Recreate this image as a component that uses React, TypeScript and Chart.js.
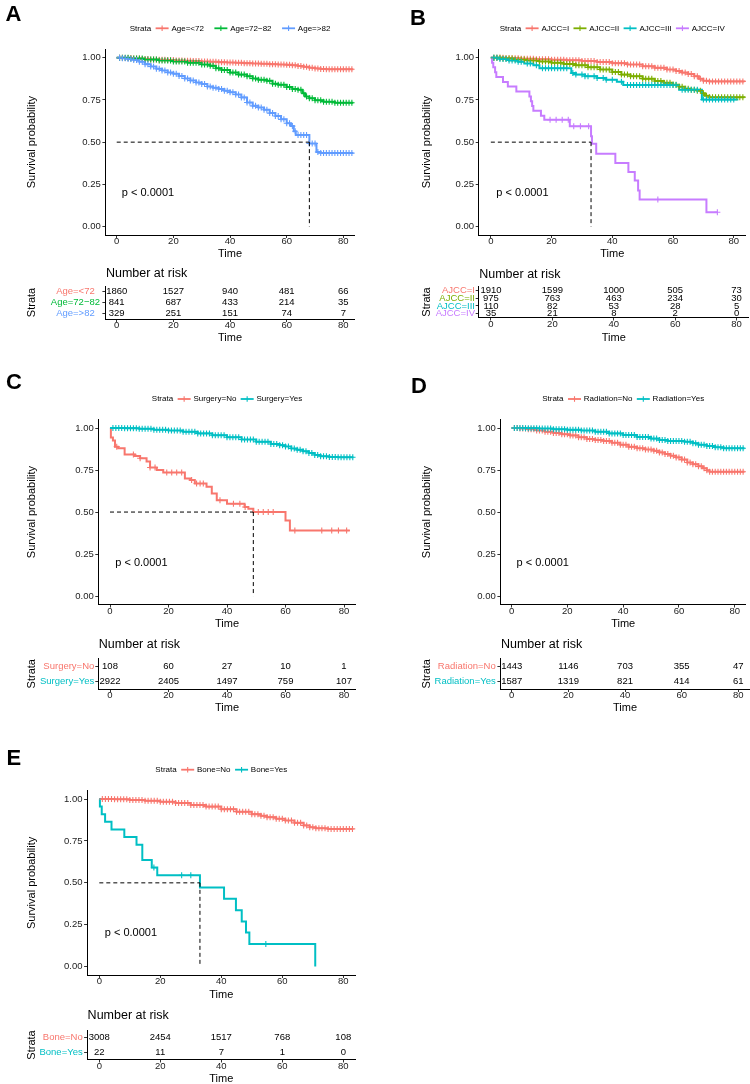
import React, { useEffect, useRef } from "react";
import { Chart, registerables } from "chart.js";

Chart.register(...registerables);

const FONT = "'Liberation Sans', Arial, Helvetica, sans-serif";

/* ---------------- shared axis values ---------------- */
const X_TICKS = [0, 20, 40, 60, 80];
const Y_TICKS = [0, 0.25, 0.5, 0.75, 1];
const RISK_TIMES = [0, 20, 40, 60, 80];
const X_LIMITS = [-4, 84];
const Y_LIMITS = [-0.05, 1.05];
const P_LABEL = "p < 0.0001";
const P_AT = [1.8, 0.2];
const LEGEND_TITLE = "Strata";

// censoring marks seen at (almost) every follow-up month on the large strata
const CENSOR_MONTHLY = [1, 2, 3, 4, 5, 6, 7, 8, 9, 10, 11, 12, 13, 14, 15, 16, 17, 18, 19, 20, 21, 22, 23, 24, 25, 26, 27, 28, 29, 30, 31, 32, 33, 34, 35, 36, 37, 38, 39, 40, 41, 42, 43, 44, 45, 46, 47, 48, 49, 50, 51, 52, 53, 54, 55, 56, 57, 58, 59, 60, 61, 62, 63, 64, 65, 66, 67, 68, 69, 70, 71, 72, 73, 74, 75, 76, 77, 78, 79, 80, 81, 82, 83];

/* ---------------- A : Age ---------------- */
const A_LABELS = ["Age=<72", "Age=72\u221282", "Age=>82"];
const A_COLORS = ["#F8766D", "#00BA38", "#619CFF"];
const A_T1 = [0, 3, 6, 9, 12, 15, 18, 21, 24, 27, 30, 33, 36, 39, 42, 45, 48, 51, 54, 57, 60, 62, 64, 66, 68, 70, 72, 74, 83.5];
const A_S1 = [1, 0.998, 0.995, 0.993, 0.99, 0.988, 0.986, 0.984, 0.982, 0.98, 0.978, 0.976, 0.974, 0.972, 0.97, 0.968, 0.966, 0.964, 0.962, 0.96, 0.958, 0.955, 0.951, 0.946, 0.941, 0.937, 0.934, 0.932, 0.932];
const A_T2 = [0, 5, 10, 15, 20, 25, 30, 33, 35, 37, 40, 43, 46, 48, 50, 53, 55, 57, 60, 62, 64, 65.5, 66.5, 68, 70, 73, 77, 83.5];
const A_S2 = [1, 0.995, 0.99, 0.984, 0.978, 0.97, 0.96, 0.952, 0.938, 0.928, 0.912, 0.9, 0.89, 0.877, 0.87, 0.863, 0.846, 0.84, 0.826, 0.815, 0.81, 0.79, 0.77, 0.76, 0.748, 0.74, 0.733, 0.733];
const A_T3 = [0, 2, 4, 6, 8, 10, 12, 14, 16, 18, 20, 22, 24, 26, 28, 30, 32, 34, 36, 38, 40, 42, 44, 46, 48, 50, 52, 54, 56, 58, 60, 61.5, 62.5, 63.2, 68, 70.5, 72, 83.5];
const A_S3 = [1, 0.997, 0.992, 0.986, 0.976, 0.962, 0.948, 0.935, 0.924, 0.913, 0.905, 0.892, 0.877, 0.865, 0.853, 0.845, 0.83, 0.822, 0.815, 0.805, 0.795, 0.782, 0.765, 0.735, 0.715, 0.705, 0.692, 0.672, 0.655, 0.635, 0.612, 0.595, 0.565, 0.542, 0.492, 0.442, 0.435, 0.435];
const A_RISK1 = [1860, 1527, 940, 481, 66];
const A_RISK2 = [841, 687, 433, 214, 35];
const A_RISK3 = [329, 251, 151, 74, 7];
const A_MEDIAN = 68;

/* ---------------- B : AJCC ---------------- */
const B_LABELS = ["AJCC=I", "AJCC=II", "AJCC=III", "AJCC=IV"];
const B_COLORS = ["#F8766D", "#7CAE00", "#00BFC4", "#C77CFF"];
const B_T1 = [0, 5, 10, 15, 20, 25, 30, 35, 40, 45, 50, 54, 58, 61, 63, 65, 67, 68.5, 70, 72, 83.5];
const B_S1 = [1, 0.997, 0.994, 0.991, 0.988, 0.985, 0.981, 0.975, 0.968, 0.96, 0.95, 0.94, 0.93, 0.922, 0.912, 0.903, 0.89, 0.875, 0.864, 0.86, 0.857];
const B_T2 = [0, 4, 8, 12, 16, 20, 24, 28, 32, 36, 40, 43, 46, 50, 54, 57, 60, 62, 64, 66, 68, 69.5, 70.5, 72, 83.5];
const B_S2 = [1, 0.996, 0.99, 0.984, 0.978, 0.971, 0.963, 0.955, 0.943, 0.93, 0.915, 0.9, 0.89, 0.876, 0.862, 0.852, 0.84, 0.828, 0.816, 0.81, 0.805, 0.79, 0.775, 0.766, 0.764];
const B_T3 = [0, 3, 6, 9, 11, 14, 16, 26.5, 28, 31, 35, 38, 41.5, 43.6, 62, 69.5, 81.5];
const B_S3 = [1, 0.992, 0.984, 0.976, 0.966, 0.955, 0.938, 0.909, 0.9, 0.891, 0.88, 0.87, 0.858, 0.838, 0.81, 0.752, 0.752];
const B_T4 = [0, 0.4, 0.8, 1.4, 1.8, 4, 5.6, 8.4, 12.7, 13.2, 13.6, 14, 16.5, 17.6, 26, 33, 33.3, 34.7, 41, 45.3, 47.4, 48.5, 49, 71, 74.6];
const B_S4 = [1, 0.971, 0.943, 0.914, 0.886, 0.857, 0.829, 0.8, 0.771, 0.743, 0.714, 0.686, 0.657, 0.633, 0.594, 0.535, 0.49, 0.432, 0.376, 0.323, 0.273, 0.214, 0.16, 0.085, 0.085];
const B_C3 = [1, 2, 3, 4, 5, 6, 7, 8, 9, 10, 12, 13, 15, 17, 18, 19, 20, 21, 22, 23, 24, 25, 27, 28, 30, 31, 32, 34, 35, 37, 38, 40, 43, 45, 46, 47, 48, 49, 50, 51, 52, 53, 54, 55, 56, 57, 58, 59, 60, 61, 63, 64, 65, 66, 67, 68, 70, 71, 72, 73, 74, 75, 76, 77, 78, 79, 80];
const B_C4 = [19.5, 21.5, 23.5, 25.5, 27.3, 29.5, 32.2, 55, 74.6];
const B_RISK1 = [1910, 1599, 1000, 505, 73];
const B_RISK2 = [975, 763, 463, 234, 30];
const B_RISK3 = [110, 82, 53, 28, 5];
const B_RISK4 = [35, 21, 8, 2, 0];
const B_MEDIAN = 33;

/* ---------------- C : Surgery ---------------- */
const C_LABELS = ["Surgery=No", "Surgery=Yes"];
const C_COLORS = ["#F8766D", "#00BFC4"];
const C_T1 = [0, 0.3, 1, 1.7, 2.8, 5, 8.5, 10.3, 12.5, 13.7, 16, 18.2, 25.6, 27.4, 29, 33, 34.8, 36.5, 40, 46, 47.3, 49, 60, 61.5, 82];
const C_S1 = [1, 0.944, 0.926, 0.889, 0.88, 0.843, 0.833, 0.82, 0.8, 0.765, 0.75, 0.735, 0.7, 0.69, 0.67, 0.65, 0.61, 0.57, 0.55, 0.53, 0.52, 0.5, 0.45, 0.39, 0.39];
const C_T2 = [0, 5, 10, 15, 20, 25, 30, 35, 40, 45, 50, 55, 58, 60, 62, 64, 66, 68, 70, 72, 75, 78, 83.2];
const C_S2 = [1, 0.999, 0.996, 0.99, 0.985, 0.978, 0.968, 0.957, 0.945, 0.932, 0.918, 0.905, 0.898, 0.89, 0.878, 0.87, 0.862, 0.852, 0.84, 0.832, 0.828, 0.826, 0.826];
const C_C1 = [2.3, 8, 10.3, 13.7, 15.4, 19.4, 21.1, 22.8, 24.5, 27.9, 29.6, 30.8, 31.9, 37.6, 42.2, 44.4, 46.2, 50.7, 52.4, 54.1, 55.8, 63.2, 72.4, 75.8, 78.1, 80.9];
const C_RISK1 = [108, 60, 27, 10, 1];
const C_RISK2 = [2922, 2405, 1497, 759, 107];
const C_MEDIAN = 49;

/* ---------------- D : Radiation ---------------- */
const D_LABELS = ["Radiation=No", "Radiation=Yes"];
const D_COLORS = ["#F8766D", "#00BFC4"];
const D_T1 = [0, 3, 6, 9, 12, 15, 18, 21, 24, 27, 30, 33, 36, 39, 42, 45, 48, 51, 53, 55, 57, 59, 61, 63, 65, 67, 68.5, 70, 71, 83.5];
const D_S1 = [1, 0.997, 0.992, 0.985, 0.978, 0.97, 0.963, 0.956, 0.945, 0.935, 0.928, 0.922, 0.912, 0.9, 0.888, 0.88, 0.872, 0.864, 0.855, 0.845, 0.835, 0.825, 0.812, 0.795, 0.785, 0.772, 0.76, 0.748, 0.74, 0.74];
const D_T2 = [0, 5, 10, 15, 20, 25, 30, 35, 40, 45, 50, 53, 56, 62, 65, 67, 70, 73, 76, 83.5];
const D_S2 = [1, 0.999, 0.997, 0.993, 0.989, 0.985, 0.978, 0.968, 0.958, 0.947, 0.937, 0.928, 0.922, 0.918, 0.91, 0.9, 0.893, 0.885, 0.88, 0.88];
const D_RISK1 = [1443, 1146, 703, 355, 47];
const D_RISK2 = [1587, 1319, 821, 414, 61];
const D_MEDIAN = null;

/* ---------------- E : Bone ---------------- */
const E_LABELS = ["Bone=No", "Bone=Yes"];
const E_COLORS = ["#F8766D", "#00BFC4"];
const E_T1 = [0, 5, 10, 15, 20, 25, 30, 35, 40, 45, 50, 53, 55, 58, 61, 64, 67, 69, 71, 75, 83.3];
const E_S1 = [1, 0.999, 0.995, 0.99, 0.984, 0.977, 0.965, 0.955, 0.94, 0.925, 0.91, 0.9, 0.892, 0.883, 0.872, 0.858, 0.843, 0.832, 0.826, 0.822, 0.822];
const E_T2 = [0, 0.2, 0.8, 1.9, 4, 8.2, 12.2, 14.1, 17.2, 19, 33, 40.9, 44.8, 46.7, 48.1, 49.2, 70.8];
const E_S2 = [1, 0.955, 0.909, 0.864, 0.818, 0.773, 0.727, 0.636, 0.591, 0.545, 0.4725, 0.405, 0.337, 0.27, 0.203, 0.135, 0];
const E_C2 = [17.9, 27, 30, 54.6];
const E_RISK1 = [3008, 2454, 1517, 768, 108];
const E_RISK2 = [22, 11, 7, 1, 0];
const E_MEDIAN = 33;

/* ---------------- panel assembly ---------------- */
type Series = { label: string; color: string; t: number[]; s: number[]; c: number[]; risk: number[] };
type Panel = { letter: string; series: Series[]; median: number | null; lay: any };

function mk(labels: string[], colors: string[], ts: number[][], ss: number[][], cs: number[][], risks: number[][]): Series[] {
  return labels.map((label, i) => ({ label, color: colors[i], t: ts[i], s: ss[i], c: cs[i], risk: risks[i] }));
}

const LAYOUTS: any = {
  A: { x: 0, w: 375, plotY: 0, plotH: 262, tableY: 262, tableH: 84, L: 105.4, R: 354.7, T: 49.3, B: 235, tT: 286, tB: 319, letterX: 5.5, letterY: 20.7, legendY: 28.3, legendGap: 10.5, yTitleX: 32, strataX: 31.7, tableTitleY: 274, tableAlign: "center", tablePad: 2.4 },
  B: { x: 375, w: 375, plotY: 0, plotH: 262, tableY: 262, tableH: 84, L: 478.7, R: 748.9, T: 49.3, B: 235, tT: 286.5, tB: 317.5, letterX: 410, letterY: 25, legendY: 28.3, legendGap: 4.3, yTitleX: 426.7, strataX: 426.7, tableTitleY: 275, tableAlign: "near", tablePad: 0.7 },
  C: { x: 0, w: 375, plotY: 360, plotH: 272, tableY: 632, tableH: 84, L: 98.3, R: 355.7, T: 419.6, B: 604.5, tT: 658.5, tB: 689, letterX: 6, letterY: 389.3, legendY: 399, legendGap: 4.3, yTitleX: 32.3, strataX: 31.7, tableTitleY: 645, tableAlign: "near", tablePad: 1 },
  D: { x: 375, w: 375, plotY: 360, plotH: 272, tableY: 632, tableH: 84, L: 500.4, R: 749.7, T: 419.6, B: 604.5, tT: 658.5, tB: 689, letterX: 411, letterY: 393.3, legendY: 399, legendGap: 4.3, yTitleX: 426.7, strataX: 426.7, tableTitleY: 645, tableAlign: "near", tablePad: 1.7 },
  E: { x: 0, w: 375, plotY: 720, plotH: 283, tableY: 1003, tableH: 84, L: 87.1, R: 355.5, T: 790.7, B: 975, tT: 1030.5, tB: 1059.5, letterX: 6.5, letterY: 765, legendY: 769.7, legendGap: 4.5, yTitleX: 32.3, strataX: 31.7, tableTitleY: 1016, tableAlign: "near", tablePad: 1.4 },
};

const PANELS: Panel[] = [
  { letter: "A", median: A_MEDIAN, lay: LAYOUTS.A, series: mk(A_LABELS, A_COLORS, [A_T1, A_T2, A_T3], [A_S1, A_S2, A_S3], [CENSOR_MONTHLY, CENSOR_MONTHLY, CENSOR_MONTHLY], [A_RISK1, A_RISK2, A_RISK3]) },
  { letter: "B", median: B_MEDIAN, lay: LAYOUTS.B, series: mk(B_LABELS, B_COLORS, [B_T1, B_T2, B_T3, B_T4], [B_S1, B_S2, B_S3, B_S4], [CENSOR_MONTHLY, CENSOR_MONTHLY, B_C3, B_C4], [B_RISK1, B_RISK2, B_RISK3, B_RISK4]) },
  { letter: "C", median: C_MEDIAN, lay: LAYOUTS.C, series: mk(C_LABELS, C_COLORS, [C_T1, C_T2], [C_S1, C_S2], [C_C1, CENSOR_MONTHLY], [C_RISK1, C_RISK2]) },
  { letter: "D", median: D_MEDIAN, lay: LAYOUTS.D, series: mk(D_LABELS, D_COLORS, [D_T1, D_T2], [D_S1, D_S2], [CENSOR_MONTHLY, CENSOR_MONTHLY], [D_RISK1, D_RISK2]) },
  { letter: "E", median: E_MEDIAN, lay: LAYOUTS.E, series: mk(E_LABELS, E_COLORS, [E_T1, E_T2], [E_S1, E_S2], [CENSOR_MONTHLY, E_C2], [E_RISK1, E_RISK2]) },
];

/* ---------------- helpers ---------------- */
function survAt(se: Series, t: number): number {
  let v = se.s[0];
  for (let k = 0; k < se.t.length; k++) {
    if (se.t[k] <= t) v = se.s[k];
    else break;
  }
  return v;
}

const TICK_FONT = { family: FONT, size: 9.5, lineHeight: 1 };
const TITLE_FONT = { family: FONT, size: 11, lineHeight: 1.2 };
const TICK_COLOR = "#222";
const GRID = { drawOnChartArea: false, drawTicks: true, tickLength: 3, color: "#333", lineWidth: 1 };
const BORDER = { display: true, color: "#000", width: 1 };

function xScale(height: number) {
  return {
    type: "linear",
    min: X_LIMITS[0],
    max: X_LIMITS[1],
    afterBuildTicks: (s: any) => { s.ticks = X_TICKS.map((v) => ({ value: v })); },
    afterFit: (s: any) => { s.height = height; },
    grid: GRID,
    border: BORDER,
    ticks: { font: TICK_FONT, color: TICK_COLOR, padding: -1, maxRotation: 0, autoSkip: false, callback: (v: any) => String(v) },
    title: { display: true, text: "Time", font: TITLE_FONT, color: "#000", padding: { top: 0, bottom: 1.4 } },
  };
}

function drawLegend(ctx: CanvasRenderingContext2D, chart: any, p: Panel, y: number, gap: number) {
  const TITLE_GAP = 4.5, KEY_W = 13, KEY_GAP = 2.8;
  ctx.font = `8px ${FONT}`;
  const widths = p.series.map((se) => ctx.measureText(se.label).width);
  const titleW = ctx.measureText(LEGEND_TITLE).width;
  const n = p.series.length;
  const total = titleW + TITLE_GAP + widths.reduce((a, b) => a + b, 0) + n * (KEY_W + KEY_GAP) + (n - 1) * gap;
  const ca = chart.chartArea;
  let x = (ca.left + ca.right) / 2 - total / 2;
  ctx.textAlign = "left";
  ctx.textBaseline = "middle";
  ctx.fillStyle = "#000";
  ctx.fillText(LEGEND_TITLE, x, y);
  x += titleW + TITLE_GAP;
  p.series.forEach((se, i) => {
    ctx.strokeStyle = se.color;
    ctx.lineWidth = 1.8;
    ctx.beginPath();
    ctx.moveTo(x, y);
    ctx.lineTo(x + KEY_W, y);
    ctx.stroke();
    ctx.lineWidth = 1.1;
    ctx.beginPath();
    ctx.moveTo(x + KEY_W / 2, y - 2.8);
    ctx.lineTo(x + KEY_W / 2, y + 2.8);
    ctx.stroke();
    x += KEY_W + KEY_GAP;
    ctx.fillStyle = "#000";
    ctx.fillText(se.label, x, y);
    x += widths[i] + gap;
  });
}

function plotConfig(p: Panel) {
  const lay = p.lay;
  const ox = lay.x, oy = lay.plotY;
  const datasets: any[] = [];
  p.series.forEach((se, i) => {
    datasets.push({
      type: "line",
      data: se.t.map((t, k) => ({ x: t, y: se.s[k] })),
      borderColor: se.color,
      backgroundColor: se.color,
      borderWidth: 2,
      pointRadius: 0,
      stepped: "before",
      fill: false,
      order: 100 - i,
    });
  });
  p.series.forEach((se, i) => {
    const tEnd = se.t[se.t.length - 1];
    datasets.push({
      type: "line",
      showLine: false,
      data: se.c.filter((t) => t <= tEnd).map((t) => ({ x: t, y: survAt(se, t) })),
      pointStyle: "cross",
      pointRadius: 3,
      pointHoverRadius: 3,
      pointBorderWidth: 1.1,
      pointBorderColor: se.color,
      pointBackgroundColor: se.color,
      borderColor: se.color,
      order: 50 - i,
    });
  });
  if (p.median !== null) {
    const dash = { borderColor: "#000", borderWidth: 1, borderDash: [4, 3], pointRadius: 0, fill: false, order: 0, type: "line" };
    datasets.push({ ...dash, data: [{ x: 0, y: 0.5 }, { x: p.median, y: 0.5 }] });
    datasets.push({ ...dash, data: [{ x: p.median, y: 0.5 }, { x: p.median, y: 0 }] });
  }

  const decor = {
    id: "decor" + p.letter,
    afterDatasetsDraw(chart: any) {
      const ctx = chart.ctx as CanvasRenderingContext2D;
      ctx.save();
      ctx.font = `11px ${FONT}`;
      ctx.fillStyle = "#000";
      ctx.textAlign = "left";
      ctx.textBaseline = "middle";
      ctx.fillText(P_LABEL, chart.scales.x.getPixelForValue(P_AT[0]), chart.scales.y.getPixelForValue(P_AT[1]));
      ctx.font = `bold 22px ${FONT}`;
      ctx.textBaseline = "alphabetic";
      ctx.fillText(p.letter, lay.letterX - ox, lay.letterY - oy);
      drawLegend(ctx, chart, p, lay.legendY - oy, lay.legendGap);
      ctx.restore();
    },
  };

  return {
    type: "line",
    data: { datasets },
    options: {
      responsive: false,
      animation: false,
      devicePixelRatio: 1,
      events: [],
      layout: { padding: { left: 0, top: lay.T - oy, right: ox + lay.w - lay.R, bottom: 0 } },
      plugins: { legend: { display: false }, tooltip: { enabled: false }, title: { display: false } },
      scales: {
        x: xScale(oy + lay.plotH - lay.B),
        y: {
          type: "linear",
          min: Y_LIMITS[0],
          max: Y_LIMITS[1],
          afterBuildTicks: (s: any) => { s.ticks = Y_TICKS.map((v) => ({ value: v })); },
          afterFit: (s: any) => { s.width = lay.L - ox; },
          grid: GRID,
          border: BORDER,
          ticks: { font: TICK_FONT, color: TICK_COLOR, padding: 1.6, callback: (v: any) => Number(v).toFixed(2) },
          title: { display: true, text: "Survival probability", font: TITLE_FONT, color: "#000", padding: { top: lay.yTitleX - ox - 6.6, bottom: 0 } },
        },
      },
    },
    plugins: [decor],
  };
}

function tableConfig(p: Panel) {
  const lay = p.lay;
  const ox = lay.x, oy = lay.tableY;
  const labels = p.series.map((s) => s.label);
  const colors = p.series.map((s) => s.color);
  const riskText = {
    id: "risk" + p.letter,
    afterDatasetsDraw(chart: any) {
      const ctx = chart.ctx as CanvasRenderingContext2D;
      ctx.save();
      ctx.font = `9.5px ${FONT}`;
      ctx.fillStyle = "#000";
      ctx.textAlign = "center";
      ctx.textBaseline = "middle";
      p.series.forEach((se, d) => {
        const meta = chart.getDatasetMeta(d);
        meta.data.forEach((el: any, i: number) => {
          ctx.fillText(String(se.risk[i]), el.x, el.y);
        });
      });
      ctx.font = `12.5px ${FONT}`;
      ctx.textAlign = "left";
      ctx.fillText("Number at risk", chart.chartArea.left + 0.5, lay.tableTitleY - oy);
      ctx.restore();
    },
  };
  return {
    type: "scatter",
    data: {
      datasets: p.series.map((se) => ({
        data: RISK_TIMES.map((t) => ({ x: t, y: se.label })),
        pointRadius: 0,
        pointHoverRadius: 0,
      })),
    },
    options: {
      responsive: false,
      animation: false,
      devicePixelRatio: 1,
      events: [],
      layout: { padding: { left: 0, top: lay.tT - oy, right: ox + lay.w - lay.R, bottom: 0 } },
      plugins: { legend: { display: false }, tooltip: { enabled: false }, title: { display: false } },
      scales: {
        x: xScale(oy + lay.tableH - lay.tB),
        y: {
          type: "category",
          labels,
          offset: true,
          afterFit: (s: any) => { s.width = lay.L - ox; },
          grid: GRID,
          border: BORDER,
          ticks: { font: TICK_FONT, color: (c: any) => colors[c.index] || "#000", padding: lay.tablePad, crossAlign: lay.tableAlign, autoSkip: false },
          title: { display: true, text: "Strata", font: TITLE_FONT, color: "#000", padding: { top: lay.strataX - ox - 6.6, bottom: 0 } },
        },
      },
    },
    plugins: [riskText],
  };
}

function ChartCanvas(props: { left: number; top: number; width: number; height: number; make: () => any }) {
  const ref = useRef<HTMLCanvasElement | null>(null);
  useEffect(() => {
    if (!ref.current) return;
    const chart = new Chart(ref.current, props.make());
    return () => chart.destroy();
  }, []);
  return (
    <canvas
      ref={ref}
      width={props.width}
      height={props.height}
      style={{ position: "absolute", left: props.left, top: props.top, width: props.width, height: props.height }}
    />
  );
}

export default function App() {
  return (
    <div style={{ position: "absolute", left: 0, top: 0, width: 750, height: 1084, background: "#fff", overflow: "hidden" }}>
      {PANELS.map((p) => (
        <React.Fragment key={p.letter}>
          <ChartCanvas left={p.lay.x} top={p.lay.plotY} width={p.lay.w} height={p.lay.plotH} make={() => plotConfig(p)} />
          <ChartCanvas left={p.lay.x} top={p.lay.tableY} width={p.lay.w} height={p.lay.tableH} make={() => tableConfig(p)} />
        </React.Fragment>
      ))}
    </div>
  );
}
